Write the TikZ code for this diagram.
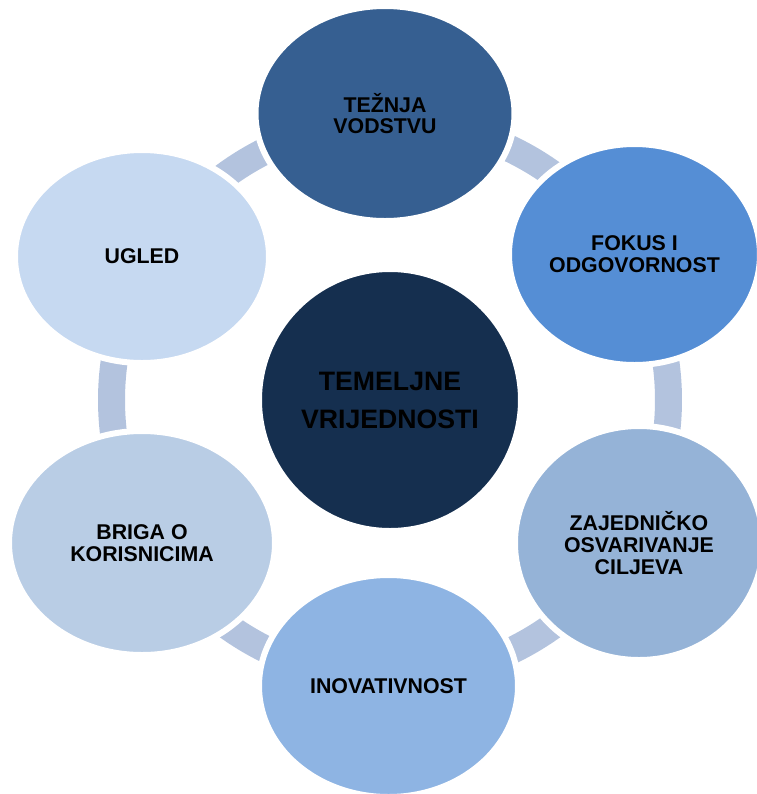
\documentclass[tikz,border=0pt]{standalone}
\usepackage{fontspec}
\setmainfont{Liberation Sans}
\usetikzlibrary{shapes.geometric,backgrounds}
\definecolor{cCenter}{HTML}{152F4F}
\definecolor{cTop}{HTML}{365F91}
\definecolor{cFokus}{HTML}{558ED5}
\definecolor{cZaj}{HTML}{95B3D7}
\definecolor{cInov}{HTML}{8EB4E3}
\definecolor{cBriga}{HTML}{B9CDE5}
\definecolor{cUgled}{HTML}{C6D9F1}
\definecolor{cRing}{HTML}{B3C3DE}
\begin{document}
\begin{tikzpicture}[x=0.75pt,y=-0.75pt,
  bub/.style={ellipse, draw=white, line width=4.5pt, inner sep=0pt, align=center,
    text=black, font=\bfseries\fontsize{16}{16.3}\selectfont},
  ringarc/.style={draw=cRing, line width=20.25pt}]
\useasboundingbox (0,0) rectangle (757,794);
\node[bub, circle, fill=cCenter, minimum size=196.5pt,
  font=\bfseries\fontsize{20}{28.5}\selectfont] (c) at (390,400) {TEMELJNE\\VRIJEDNOSTI};
\node[bub, fill=cTop, minimum width=194.25pt, minimum height=161.25pt] (t) at (385,113.5) {TEŽNJA\\VODSTVU};
\node[bub, fill=cFokus, minimum width=188.25pt, minimum height=165.75pt] (f) at (634.5,254.5) {FOKUS I\\ODGOVORNOST};
\node[bub, fill=cZaj, minimum width=186pt, minimum height=175.5pt] (z) at (639,543) {ZAJEDNIČKO\\OSVARIVANJE\\CILJEVA};
\node[bub, fill=cInov, minimum width=194.25pt, minimum height=166.5pt] (i) at (388.5,686) {INOVATIVNOST};
\node[bub, fill=cBriga, minimum width=199.5pt, minimum height=168pt] (b) at (142,543) {BRIGA O\\KORISNICIMA};
\node[bub, fill=cUgled, minimum width=190.5pt, minimum height=159.75pt] (u) at (142,256.5) {UGLED};
\begin{pgfonlayer}{background}
  \draw[ringarc] (c.center) ++(-90:278.5) arc[start angle=-90, end angle=-30, radius=278.5]; % t -> f
  \draw[ringarc] (c.center) ++(-30:278.5) arc[start angle=-30, end angle=30, radius=278.5]; % f -> z
  \draw[ringarc] (c.center) ++(30:278.5) arc[start angle=30, end angle=90, radius=278.5]; % z -> i
  \draw[ringarc] (c.center) ++(90:278.5) arc[start angle=90, end angle=150, radius=278.5]; % i -> b
  \draw[ringarc] (c.center) ++(150:278.5) arc[start angle=150, end angle=210, radius=278.5]; % b -> u
  \draw[ringarc] (c.center) ++(210:278.5) arc[start angle=210, end angle=270, radius=278.5]; % u -> t
\end{pgfonlayer}
\end{tikzpicture}
\end{document}
